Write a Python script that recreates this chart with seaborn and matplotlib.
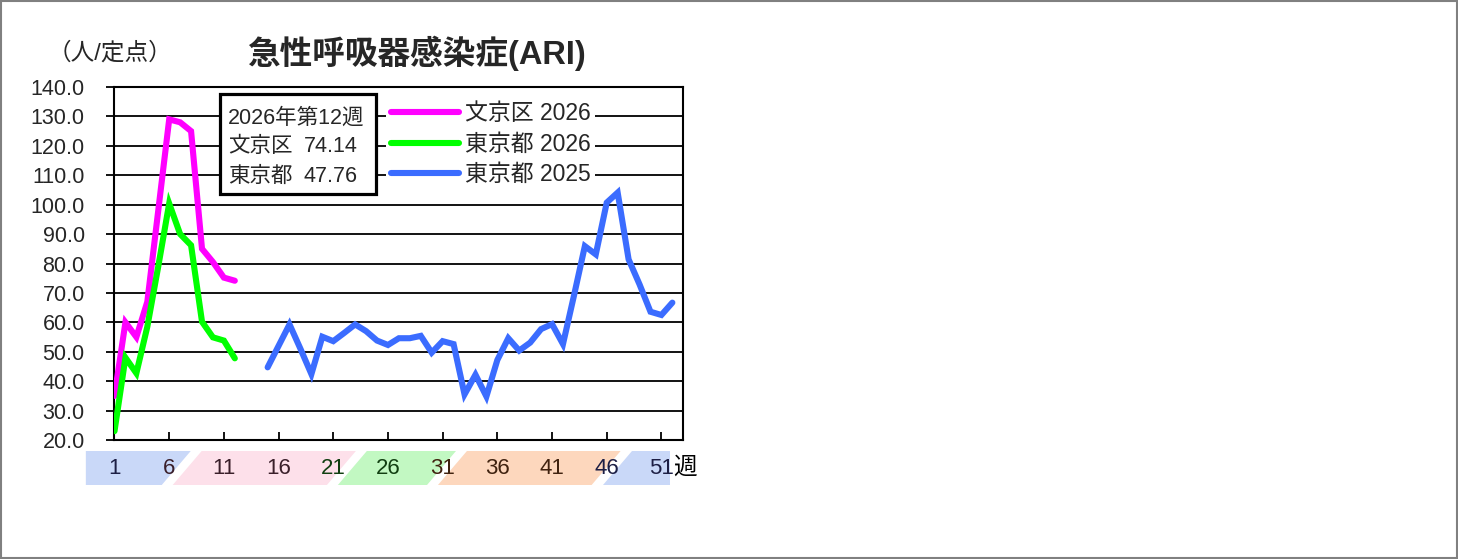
import numpy as np
import pandas as pd
import matplotlib
matplotlib.use("Agg")
import matplotlib.pyplot as plt
import matplotlib.transforms as mtransforms
from matplotlib.patches import Polygon, Rectangle
import seaborn as sns

# ---------------- data ----------------
weeks_2026 = list(range(1, 13))
bunkyo_2026 = [35.0, 60.0, 55.0, 67.0, 98.0, 129.0, 128.0, 125.0, 85.0, 80.5, 75.2, 74.14]
tokyo_2026 = [23.0, 48.0, 42.7, 58.5, 79.0, 100.4, 90.0, 86.2, 60.2, 54.9, 53.8, 47.76]

weeks_2025 = list(range(15, 53))
tokyo_2025 = [44.7, 52.0, 59.3, 51.0, 42.4, 55.1, 53.6, 56.4, 59.3, 57.0,
              53.8, 52.3, 54.6, 54.6, 55.4, 49.7, 53.6, 52.6, 35.5, 42.2,
              34.8, 47.2, 54.6, 50.4, 53.1, 57.7, 59.4, 52.6, 69.0, 85.9,
              83.1, 100.7, 104.1, 81.4, 72.9, 63.6, 62.5, 66.7]

series_labels = ["文京区 2026", "東京都 2026", "東京都 2025"]
series_colors = ["#ff00ff", "#00ff00", "#3b6cff"]

week_ticks = [1, 6, 11, 16, 21, 26, 31, 36, 41, 46, 51]
y_ticks = [20, 30, 40, 50, 60, 70, 80, 90, 100, 110, 120, 130, 140]

title_text = "急性呼吸器感染症(ARI)"
unit_text = "（人/定点）"
info_lines = ["2026年第12週", "文京区", "東京都"]
info_values = ["", "74.14", "47.76"]

# season bands (in week units) and colours
band_bounds = [-1.62, 5.82, 20.92, 30.07, 45.12, 51.74]
band_colors = ["#c9d8f8", "#fde0ea", "#c2f8c2", "#fdd7bd", "#c9d8f8"]
band_text_colors = ["#1d1f45", "#3a1f2a", "#113f11", "#40220f", "#1d1f45"]

# ---------------- style ----------------
sns.set_style("white")
plt.rcParams["font.family"] = ["Liberation Sans", "Noto Sans CJK JP", "DejaVu Sans"]
plt.rcParams["axes.unicode_minus"] = False

fig = plt.figure(figsize=(14.58, 5.59), dpi=100)
W, H = 1458, 559
ax_l, ax_r, ax_t, ax_b = 114.5, 683.3, 87.0, 440.0
ax = fig.add_axes([ax_l / W, 1 - ax_b / H, (ax_r - ax_l) / W, (ax_b - ax_t) / H])

df26 = pd.DataFrame({"week": weeks_2026, "bunkyo": bunkyo_2026, "tokyo": tokyo_2026})
df25 = pd.DataFrame({"week": weeks_2025, "tokyo": tokyo_2025})

lw = 4.4
sns.lineplot(data=df26, x="week", y="bunkyo", color=series_colors[0], lw=lw,
             label=series_labels[0], ax=ax, zorder=3, solid_joinstyle="miter")
sns.lineplot(data=df26, x="week", y="tokyo", color=series_colors[1], lw=lw,
             label=series_labels[1], ax=ax, zorder=3, solid_joinstyle="miter")
sns.lineplot(data=df25, x="week", y="tokyo", color=series_colors[2], lw=lw,
             label=series_labels[2], ax=ax, zorder=3, solid_joinstyle="miter")

ax.set_xlim(1, 53)
ax.set_ylim(20, 140)
ax.set_yticks(y_ticks)
ax.set_yticklabels([f"{v:.1f}" for v in y_ticks], fontsize=15.5)
ax.set_xticks(week_ticks)
ax.set_xticklabels([])
ax.set_xlabel("")
ax.set_ylabel("")
ax.grid(axis="y", color="black", lw=1.3)
ax.grid(axis="x", visible=False)
ax.set_axisbelow(True)
for sp in ax.spines.values():
    sp.set_visible(True)
    sp.set_color("black")
    sp.set_linewidth(1.5)
ax.tick_params(axis="y", direction="out", length=5.5, width=1.3, color="black",
               pad=16, left=True)
ax.tick_params(axis="x", direction="in", length=5.5, width=1.3, color="black",
               bottom=True, pad=0)

# legend
leg = ax.legend(loc="upper left", bbox_to_anchor=(0.478, 0.970), borderaxespad=0,
                frameon=True, fancybox=False, edgecolor="none", facecolor="white",
                framealpha=1.0, fontsize=16.5, handlelength=2.95, handletextpad=0.28,
                labelspacing=0.33, borderpad=0.2)
for line in leg.get_lines():
    line.set_linewidth(lw)
    line.set_solid_capstyle("round")
leg.set_zorder(6)

# info box
def fx(px):
    return (px - ax_l) / (ax_r - ax_l)

def fy(py):
    return (ax_b - py) / (ax_b - ax_t)

box = Rectangle((fx(220), fy(194.3)), fx(375.7) - fx(220), fy(94.3) - fy(194.3),
                transform=ax.transAxes, facecolor="white", edgecolor="black",
                lw=2.3, zorder=6)
ax.add_patch(box)
for i, (lab, val) in enumerate(zip(info_lines, info_values)):
    ypx = [118.5, 147.0, 176.0][i]
    ax.text(fx(228), fy(ypx), lab, transform=ax.transAxes, ha="left", va="center",
            fontsize=15.5, zorder=7)
    if val:
        ax.text(fx(357.5), fy(ypx), val, transform=ax.transAxes, ha="right",
                va="center", fontsize=15.5, zorder=7)

# season bands with week labels
trans = mtransforms.blended_transform_factory(ax.transData, ax.transAxes)
yb, yt = fy(485), fy(451)
slant, hgap = 2.65, 0.5
n = len(band_colors)
for i in range(n):
    l = band_bounds[i] + (hgap if i > 0 else 0)
    r = band_bounds[i + 1] - (hgap if i < n - 1 else 0)
    lt = l + slant if i > 0 else l
    rt = r + slant if i < n - 1 else r
    poly = Polygon([(l, yb), (r, yb), (rt, yt), (lt, yt)], closed=True,
                   transform=trans, facecolor=band_colors[i], edgecolor="none",
                   clip_on=False, zorder=1)
    ax.add_patch(poly)

for w in week_ticks:
    idx = int(np.searchsorted(band_bounds, w) - 1)
    idx = max(0, min(idx, n - 1))
    ax.text(w, fy(468), str(w), transform=trans, ha="center", va="center",
            fontsize=16, color=band_text_colors[idx], clip_on=False, zorder=2)
ax.text(53.2, fy(468), "週", transform=trans, ha="center", va="center",
        fontsize=17, color="black", clip_on=False)

# titles
fig.text(416.5 / W, 1 - 53 / H, title_text, ha="center", va="center",
         fontsize=23.5, fontweight="bold")
fig.text(110 / W, 1 - 53 / H, unit_text, ha="center", va="center", fontsize=17)

# outer border
fig.patches.append(Rectangle((0.0005, 0.001), 0.999, 0.998, transform=fig.transFigure,
                             fill=False, edgecolor="#808080", lw=1.5))

fig.savefig("out.png", dpi=100)
